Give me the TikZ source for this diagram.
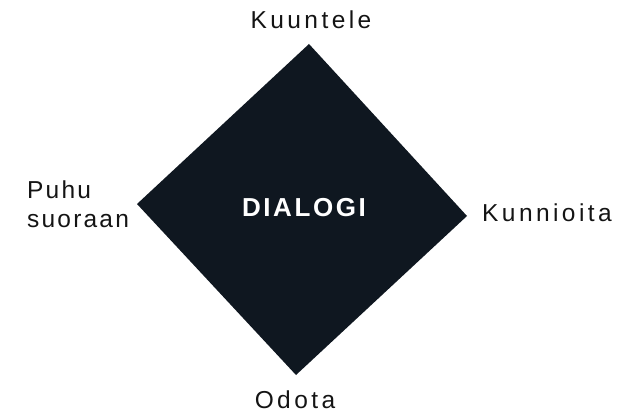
\documentclass[tikz,border=0pt]{standalone}
\usepackage{fontspec}
\setmainfont{Liberation Sans}
\usepackage{tikz}
\usetikzlibrary{positioning}
\usepackage{xcolor}
\definecolor{ink}{HTML}{0F1720}
\definecolor{txt}{HTML}{141414}
\newfontfamily\spaced[LetterSpace=14]{Liberation Sans}
\newfontfamily\spacedless[LetterSpace=9]{Liberation Sans}
\newfontfamily\spacedbold[LetterSpace=10]{Liberation Sans Bold}

\begin{document}
\begin{tikzpicture}[
  x=1pt, y=-1pt,
  word/.style={inner sep=0pt, text=txt, font=\spaced\fontsize{24.5}{29}\selectfont},
  title/.style={inner sep=0pt, text=white, font=\spacedbold\fontsize{26}{30}\selectfont}
]
\useasboundingbox (0,0) rectangle (619,414);
% ----- diamond -----
\coordinate (tp) at (309,44);
\coordinate (rt) at (467,216);
\coordinate (bt) at (296,375);
\coordinate (lt) at (137,204);
\fill[ink] (tp) -- (rt) -- (bt) -- (lt) -- cycle;
\node[title, anchor=base] (dlg) at (304,217) {DIALOGI};
% ----- labels -----
\node[word, anchor=base] (kuu) at (311,29) {Kuuntele};
\node[word, anchor=base west] (kun) at (482,222) {Kunnioita};
\node[word, anchor=base] (odo) at (295,408) {Odota};
\node[word, font=\spacedless\fontsize{24.5}{29}\selectfont, anchor=west, align=left] (puh) at (27,204) {Puhu\\suoraan};
\end{tikzpicture}
\end{document}
